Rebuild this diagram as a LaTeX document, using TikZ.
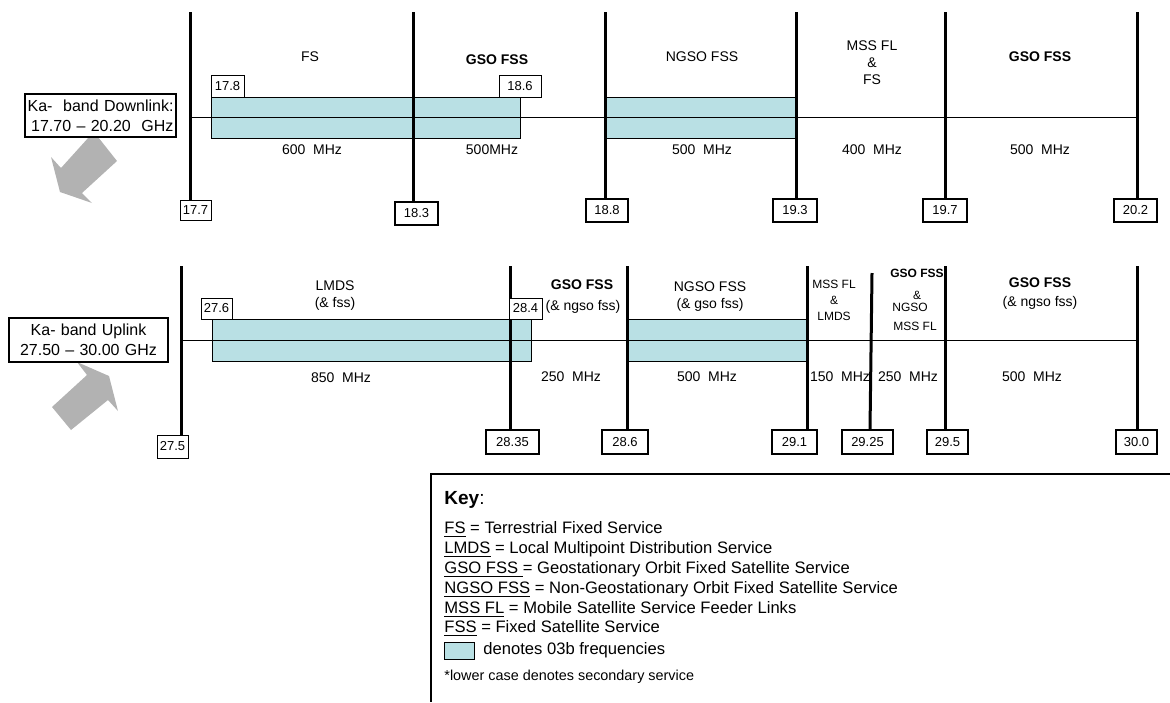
\documentclass[tikz,border=0pt]{standalone}
\usepackage{fontspec}
\setmainfont{Liberation Sans}
\usetikzlibrary{positioning}
\definecolor{obband}{RGB}{185,224,228}
\definecolor{arrowgray}{RGB}{178,178,178}
\newcommand\keyterm[1]{\setbox0=\hbox{#1}\rlap{\rule[-1.7pt]{\wd0}{0.5pt}}\box0\relax}

\begin{document}
\begin{tikzpicture}[x=0.5pt,y=-0.5pt]

\tikzset{
  tick/.style     = {line width=1.5pt},
  axis/.style     = {line width=0.5pt},
  band/.style     = {draw, line width=0.5pt, fill=obband},
  val/.style      = {draw, fill=white, inner sep=0pt, font=\fontsize{6.5}{7}\selectfont},
  valthin/.style  = {val, line width=0.5pt, minimum width=16pt, minimum height=10.5pt},
  valthick/.style = {val, line width=1pt, minimum width=21.5pt, minimum height=11.5pt},
  svc/.style      = {inner sep=0pt, align=center, font=\fontsize{7}{8.5}\selectfont},
  svcb/.style     = {inner sep=0pt, align=center, font=\fontsize{7}{8.5}\selectfont\bfseries},
  tiny/.style     = {inner sep=0pt, align=center, font=\fontsize{6}{8}\selectfont},
  tinyb/.style    = {tiny, font=\fontsize{6}{8}\selectfont\bfseries},
  bandname/.style = {draw, line width=1pt, fill=white, inner sep=0pt, font=\fontsize{8}{10}\selectfont},
  keyline/.style  = {anchor=west, inner sep=0pt, font=\fontsize{8.3}{10}\selectfont},
  bigarrow/.style = {fill=arrowgray},
}

\useasboundingbox (0,0) rectangle (1170,702);

\fill[bigarrow] (89,137) -- (98,137) -- (117,161) -- (82,193) -- (92,203) -- (60,192) -- (51,157) -- (61,168) -- cycle;
\fill[bigarrow] (71,430) -- (52,407) -- (87,375) -- (77,362) -- (109,376) -- (118,411) -- (108,400) -- cycle;

\node[bandname, minimum width=75.5pt, minimum height=21.5pt, text width=73pt, align=right] (down) at (100.5,115.5) {Ka-~~band Downlink:\\17.70 -- 20.20~~GHz};
\node[bandname, minimum width=79.5pt, minimum height=22pt, text width=79.5pt, align=center] (up) at (88.5,340) {Ka- band Uplink\\27.50 -- 30.00 GHz};

\draw[band] (211,97) rectangle (520,138);
\draw[band] (605,97) rectangle (796,138);
\draw[axis] (190,117) -- (1137,117);

\node[valthin, minimum width=15.5pt, minimum height=10pt] (d177) at (195.5,210) {17.7};
\node[valthick] (d183) at (416.5,213) {18.3};
\node[valthick, minimum width=21pt] (d188) at (607,210.5) {18.8};
\node[valthick, minimum width=22pt] (d193) at (795,210.5) {19.3};
\node[valthick, minimum width=22pt] (d197) at (945,210.5) {19.7};
\node[valthick] (d202) at (1135.5,210.5) {20.2};

\draw[tick] (190,12) -- (190,12 |- d177.north);
\draw[tick] (413,12) -- (413,12 |- d183.north);
\draw[tick] (605,12) -- (605,12 |- d188.north);
\draw[tick] (796,12) -- (796,12 |- d193.north);
\draw[tick] (945,12) -- (945,12 |- d197.north);
\draw[tick] (1137,12) -- (1137,12 |- d202.north);

\node[valthin, minimum width=16.5pt, minimum height=11pt] (d178) at (227.5,86) {17.8};
\node[valthin, minimum width=21pt, minimum height=11pt] (d186) at (520,86) {18.6};

\node[svc] (dfs) at (310,57) {FS};
\node[svcb] (dgso) at (497,60) {GSO FSS};
\node[svc] (dngso) at (702,57) {NGSO FSS};
\node[svc] (dmss) at (872,63) {MSS FL\\\&\\FS};
\node[svcb] (dgso2) at (1040,57) {GSO FSS};

\node[svc] (dw1) at (312,150) {600~~MHz};
\node[svc] (dw2) at (492,150) {500MHz};
\node[svc] (dw3) at (702,150) {500~~MHz};
\node[svc] (dw4) at (872,150) {400~~MHz};
\node[svc] (dw5) at (1040,150) {500~~MHz};

\draw[band] (212,319) rectangle (531,361);
\draw[band] (627,319) rectangle (807,361);
\draw[axis] (181,340) -- (1137,340);

\node[valthin, minimum width=15.5pt, minimum height=11.5pt] (u275) at (172.5,446.5) {27.5};
\node[valthick, minimum width=26.5pt, minimum height=12pt] (u2835) at (512.5,442) {28.35};
\node[valthick, minimum width=23pt, minimum height=12pt] (u286) at (625,442) {28.6};
\node[valthick, minimum width=22.5pt, minimum height=12pt] (u291) at (794.5,442) {29.1};
\node[valthick, minimum width=25.5pt, minimum height=12pt] (u2925) at (867.5,442) {29.25};
\node[valthick, minimum width=20.5pt, minimum height=12pt] (u295) at (947.5,442) {29.5};
\node[valthick, minimum width=20.5pt, minimum height=12pt] (u300) at (1136.5,442) {30.0};

\draw[tick] (181,266) -- (181,266 |- u275.north);
\draw[tick] (510,266) -- (510,266 |- u2835.north);
\draw[tick] (627,266) -- (627,266 |- u286.north);
\draw[tick] (807,266) -- (807,266 |- u291.north);
\draw[tick] (872,273) -- (870,273 |- u2925.north);
\draw[tick] (945,266) -- (945,266 |- u295.north);
\draw[tick] (1137,266) -- (1137,266 |- u300.north);

\node[valthin, minimum width=15.5pt] (u276) at (216.5,308.5) {27.6};
\node[valthin, minimum width=16.5pt] (u284) at (525.5,308.5) {28.4};

\node[svc] (ulmds) at (335,295.5) {LMDS\\(\& fss)};
\node[svcb] (ugso) at (582,285) {GSO FSS};
\node[svc] (ugsosec) at (583,307) {(\& ngso fss)};
\node[svc] (ungso) at (710,287) {NGSO FSS};
\node[svc] (ungsosec) at (710,305) {(\& gso fss)};
\node[tiny] (umss) at (834,300) {MSS FL\\\&\\LMDS};
\node[tinyb] (ugso2) at (917,273) {GSO FSS};
\node[tiny] (uamp) at (917,295) {\&};
\node[tiny] (ungso2) at (910,307) {NGSO};
\node[tiny] (umss2) at (915,326) {MSS FL};
\node[svcb] (ugso3) at (1040,283) {GSO FSS};
\node[svc] (ugso3sec) at (1040,303) {(\& ngso fss)};

\node[svc] (uw1) at (341,378) {850~~MHz};
\node[svc] (uw2) at (571,377) {250~~MHz};
\node[svc] (uw3) at (707,377) {500~~MHz};
\node[svc] (uw4) at (840,377) {150~~MHz};
\node[svc] (uw5) at (908,377) {250~~MHz};
\node[svc] (uw6) at (1032,377) {500~~MHz};

\draw[line width=1.2pt] (1170,474) -- (431,474) -- (431,702);
\node[keyline, font=\fontsize{9.5}{11}\selectfont] (key) at (444,500) {\textbf{Key}:};
\node[keyline] (k1) at (444,529) {\keyterm{FS} = Terrestrial Fixed Service};
\node[keyline] (k2) at (444,549) {\keyterm{LMDS} = Local Multipoint Distribution Service};
\node[keyline] (k3) at (444,569) {\keyterm{GSO FSS\ }= Geostationary Orbit Fixed Satellite Service};
\node[keyline] (k4) at (444,589) {\keyterm{NGSO FSS} = Non-Geostationary Orbit Fixed Satellite Service};
\node[keyline] (k5) at (444,609) {\keyterm{MSS FL} = Mobile Satellite Service Feeder Links};
\node[keyline] (k6) at (444,628) {\keyterm{FSS} = Fixed Satellite Service};
\node[band, anchor=west, minimum width=15pt, minimum height=8.5pt, inner sep=0pt] (swatch) at (444,650.5) {};
\node[keyline] (k7) at (483,650) {denotes 03b frequencies};
\node[keyline, font=\fontsize{7.2}{9}\selectfont] (k8) at (444,677) {*lower case denotes secondary service};

\end{tikzpicture}
\end{document}
